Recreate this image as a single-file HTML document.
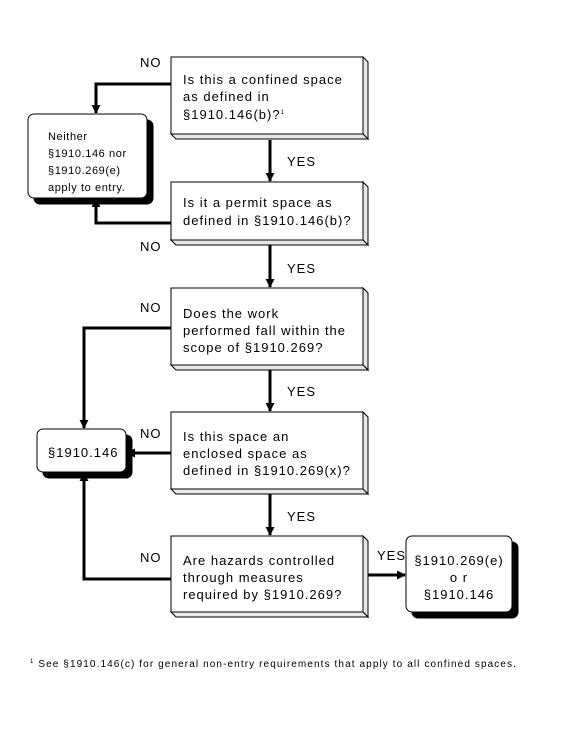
<!DOCTYPE html>
<html><head><style>body{margin:0;background:#fff}svg{display:block}text{font-family:"Liberation Sans",sans-serif;fill:#000}</style></head>
<body>
<svg width="564" height="730" viewBox="0 0 564 730" xmlns="http://www.w3.org/2000/svg">
<defs><marker id="a" viewBox="0 0 10 10" refX="9" refY="5" markerWidth="3" markerHeight="3" orient="auto"><path d="M0,0 L10,5 L0,10z" fill="#000"/></marker></defs>
<g stroke="#000" stroke-width="1" fill="#fff">
<g>
<polygon points="363,57 368,62 368,139 363,134" fill="#e8e8e8"/><polygon points="171,134 363,134 368,139 176,139" fill="#e8e8e8"/><rect x="171" y="57" width="192" height="77"/>
<polygon points="363,182 368,187 368,245 363,240" fill="#e8e8e8"/><polygon points="171,240 363,240 368,245 176,245" fill="#e8e8e8"/><rect x="171" y="182" width="192" height="58"/>
<polygon points="363,288 368,293 368,370 363,365" fill="#e8e8e8"/><polygon points="171,365 363,365 368,370 176,370" fill="#e8e8e8"/><rect x="171" y="288" width="192" height="77"/>
<polygon points="363,412 368,417 368,494 363,489" fill="#e8e8e8"/><polygon points="171,489 363,489 368,494 176,494" fill="#e8e8e8"/><rect x="171" y="412" width="192" height="77"/>
<polygon points="363,536 368,541 368,617 363,612" fill="#e8e8e8"/><polygon points="171,612 363,612 368,617 176,617" fill="#e8e8e8"/><rect x="171" y="536" width="192" height="76"/>
</g>
<rect x="34" y="120" width="119" height="84" rx="6" fill="#000"/><rect x="28" y="114" width="119" height="84" rx="6"/>
<rect x="43" y="435" width="89" height="43" rx="6" fill="#000"/><rect x="37" y="429" width="89" height="43" rx="6"/>
<rect x="412" y="542" width="106" height="76" rx="6" fill="#000"/><rect x="406" y="536" width="106" height="76" rx="6"/>
</g>
<g stroke="#000" stroke-width="3" fill="none" marker-end="url(#a)">
<path d="M270,140 V181"/>
<path d="M270,245 V287"/>
<path d="M270,370 V411"/>
<path d="M270,494 V535"/>
<path d="M171,84 H96 V113"/>
<path d="M171,223 H96 V199"/>
<path d="M171,328 H84 V428"/>
<path d="M171,453 H127"/>
<path d="M171,579 H84 V473"/>
<path d="M368,575 H405"/>
</g>
<g font-size="13" letter-spacing="1">
<text x="140" y="67">NO</text>
<text x="140" y="251">NO</text>
<text x="140" y="312">NO</text>
<text x="140" y="438">NO</text>
<text x="140" y="562">NO</text>
<text x="287" y="166">YES</text>
<text x="287" y="273">YES</text>
<text x="287" y="396">YES</text>
<text x="287" y="521">YES</text>
<text x="377" y="560">YES</text>
<text x="183" y="84">Is this a confined space</text>
<text x="183" y="101">as defined in</text>
<text x="183" y="119">§1910.146(b)?<tspan font-size="6" dy="-5">1</tspan></text>
<text x="183" y="207">Is it a permit space as</text>
<text x="183" y="225">defined in §1910.146(b)?</text>
<text x="183" y="318">Does the work</text>
<text x="183" y="335">performed fall within the</text>
<text x="183" y="352">scope of §1910.269?</text>
<text x="183" y="441">Is this space an</text>
<text x="183" y="458">enclosed space as</text>
<text x="183" y="475">defined in §1910.269(x)?</text>
<text x="183" y="565">Are hazards controlled</text>
<text x="183" y="582">through measures</text>
<text x="183" y="599">required by §1910.269?</text>
<text x="48" y="457">§1910.146</text>
<text x="459" y="565" text-anchor="middle">§1910.269(e)</text>
<text x="459" y="582" text-anchor="middle">o r</text>
<text x="459" y="599" text-anchor="middle">§1910.146</text>
</g>
<g font-size="11" letter-spacing="0.6">
<text x="48" y="140">Neither</text>
<text x="48" y="157">§1910.146 nor</text>
<text x="48" y="174">§1910.269(e)</text>
<text x="48" y="191">apply to entry.</text>
</g>
<text x="30" y="667" font-size="10" letter-spacing="1.1"><tspan font-size="6" dy="-4">1</tspan><tspan dy="4"> See §1910.146(c) for general non-entry requirements that apply to all confined spaces.</tspan></text>
</svg>
</body></html>
